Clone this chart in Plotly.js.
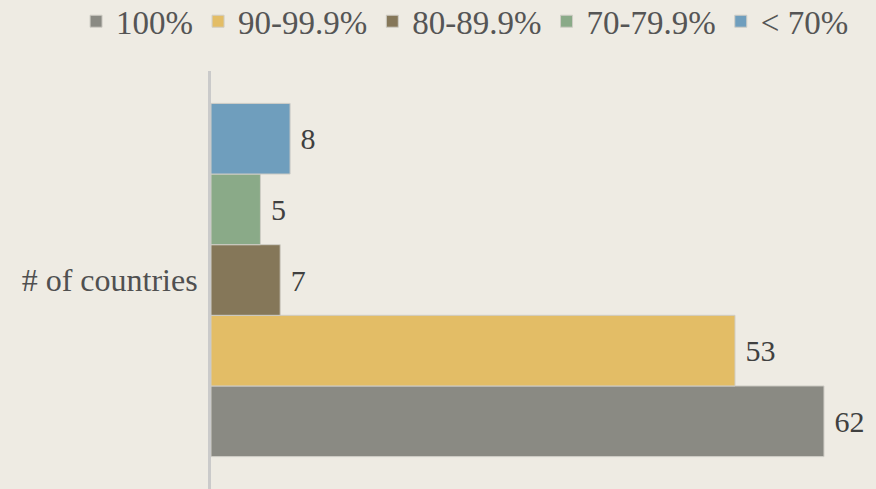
<!DOCTYPE html>
<html>
<head>
<meta charset="utf-8">
<script src="https://cdn.plot.ly/plotly-3.0.1.min.js"></script>
<style>
  html, body { margin: 0; padding: 0; background: #eeebe3; }
  #chart { width: 876px; height: 489px; }
</style>
</head>
<body>
<div id="chart"></div>
<script>
// one category, five compliance bands
var category = ['# of countries'];
var bands = ['100%', '90-99.9%', '80-89.9%', '70-79.9%', '< 70%'];
var counts = [62, 53, 7, 5, 8];
var colors = ['#8a8a83', '#e3bd66', '#857759', '#8aaa88', '#6f9ebd'];

var serif = 'Liberation Serif';

var data = [];
for (var i = 0; i < bands.length; i++) {
    data.push({
        type: 'bar',
        orientation: 'h',
        name: bands[i],
        y: category,
        x: [counts[i]],
        texttemplate: '\u00a0%{x}',
        textposition: 'outside',
        cliponaxis: false,
        textfont: {family: serif, size: 30, color: '#404040'},
        marker: {color: colors[i], line: {color: '#cfcdc6', width: 1}},
        hoverinfo: 'skip'
    });
}

var layout = {
    width: 876,
    height: 489,
    paper_bgcolor: '#eeebe3',
    plot_bgcolor: '#eeebe3',
    font: {family: serif, size: 30, color: '#404040'},
    barmode: 'group',
    bargap: 0.155,
    margin: {l: 211, r: 10, t: 71, b: 0, autoexpand: false},
    showlegend: true,
    legend: {
        orientation: 'h',
        x: -0.206, xanchor: 'left',
        y: 1.119, yanchor: 'middle',
        traceorder: 'normal',
        font: {family: serif, size: 33, color: '#555555'},
        itemwidth: 30
    },
    xaxis: {
        range: [0, 66.25],
        visible: false,
        fixedrange: true
    },
    yaxis: {
        type: 'category',
        showline: true,
        linecolor: '#cacaca',
        linewidth: 3,
        ticks: '',
        ticklabelstandoff: 4,
        tickfont: {family: serif, size: 32, color: '#505050'},
        showgrid: false,
        zeroline: false,
        fixedrange: true
    }
};

Plotly.newPlot('chart', data, layout, {displayModeBar: false, responsive: false});
</script>
</body>
</html>
